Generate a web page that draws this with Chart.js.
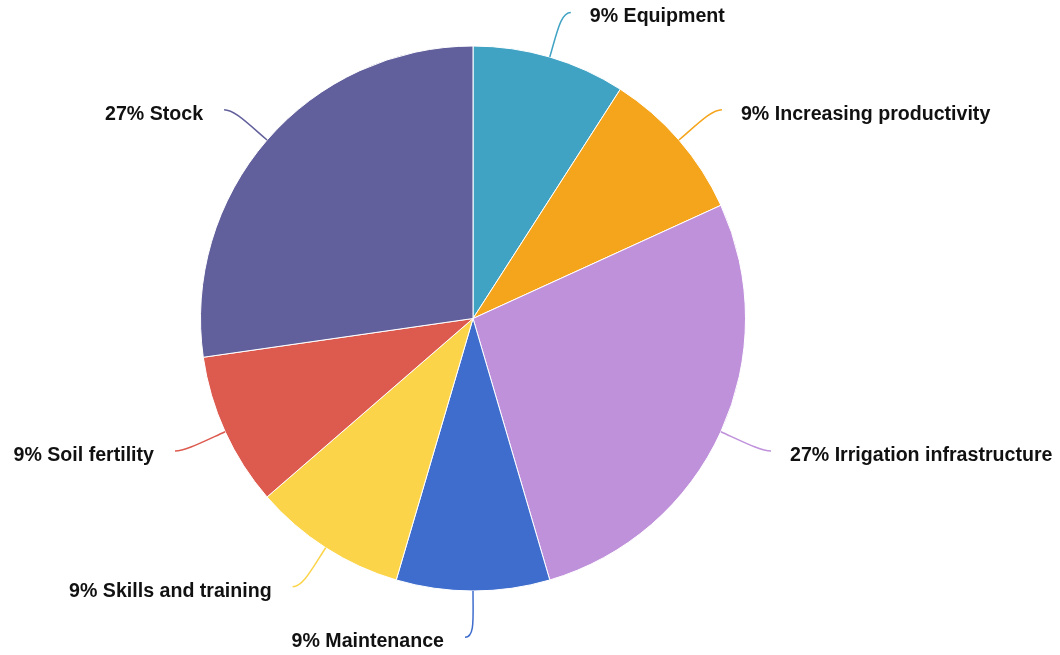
<!DOCTYPE html>
<html>
<head>
<meta charset="utf-8">
<script src="https://cdn.jsdelivr.net/npm/chart.js@4/dist/chart.umd.min.js"></script>
<style>
  html, body { margin: 0; padding: 0; background: #fff; }
  #wrap { width: 1060px; height: 655px; position: relative; }
</style>
</head>
<body>
<div id="wrap"><canvas id="pie"></canvas></div>
<script>
// data
const categories = ['Equipment', 'Increasing productivity', 'Irrigation infrastructure', 'Maintenance', 'Skills and training', 'Soil fertility', 'Stock'];
const values = [1, 1, 3, 1, 1, 1, 3];
const colors = ['#41a3c4', '#f5a51b', '#bf91db', '#3e6dcd', '#fcd44a', '#dd5a4f', '#62609c'];

const total = values.reduce((a, b) => a + b, 0);

// leader lines + labels drawn next to each slice
const outsideLabels = {
  id: 'outsideLabels',
  afterDraw(chart) {
    const ctx = chart.ctx;
    const arcs = chart.getDatasetMeta(0).data;
    ctx.save();
    ctx.font = 'bold 19.6px "Liberation Sans", Arial, sans-serif';
    ctx.textBaseline = 'middle';
    arcs.forEach((arc, i) => {
      const r = arc.outerRadius;
      const mid = (arc.startAngle + arc.endAngle) / 2;
      const cx = arc.x, cy = arc.y;
      const c = Math.cos(mid), s = Math.sin(mid);
      // side: right if slice middle is on the right half
      const dir = c > 1e-6 ? 1 : -1;
      const x0 = cx + r * c, y0 = cy + r * s;
      const x1 = cx + r * 1.1 * c, y1 = cy + r * 1.1 * s;
      const ex = cx + r * 1.17 * c + dir * 8, ey = cy + r * 1.17 * s;
      ctx.strokeStyle = colors[i];
      ctx.lineWidth = 1.5;
      ctx.beginPath();
      ctx.moveTo(x0, y0);
      ctx.bezierCurveTo(x1, y1, ex - dir * 10, ey, ex, ey);
      ctx.stroke();

      const pct = Math.round(values[i] / total * 100);
      ctx.fillStyle = '#111';
      ctx.textAlign = dir > 0 ? 'left' : 'right';
      ctx.fillText(pct + '% ' + categories[i], ex + dir * (dir > 0 ? 19 : 21), ey + 4.5);
    });
    ctx.restore();
  }
};

new Chart(document.getElementById('pie').getContext('2d'), {
  type: 'pie',
  data: {
    labels: categories,
    datasets: [{
      data: values,
      backgroundColor: colors,
      borderColor: '#fff',
      borderWidth: 1
    }]
  },
  options: {
    responsive: true,
    maintainAspectRatio: false,
    animation: false,
    layout: { padding: { left: 200, right: 314, top: 45, bottom: 63 } },
    plugins: {
      legend: { display: false },
      tooltip: { enabled: false }
    }
  },
  plugins: [outsideLabels]
});
</script>
</body>
</html>
